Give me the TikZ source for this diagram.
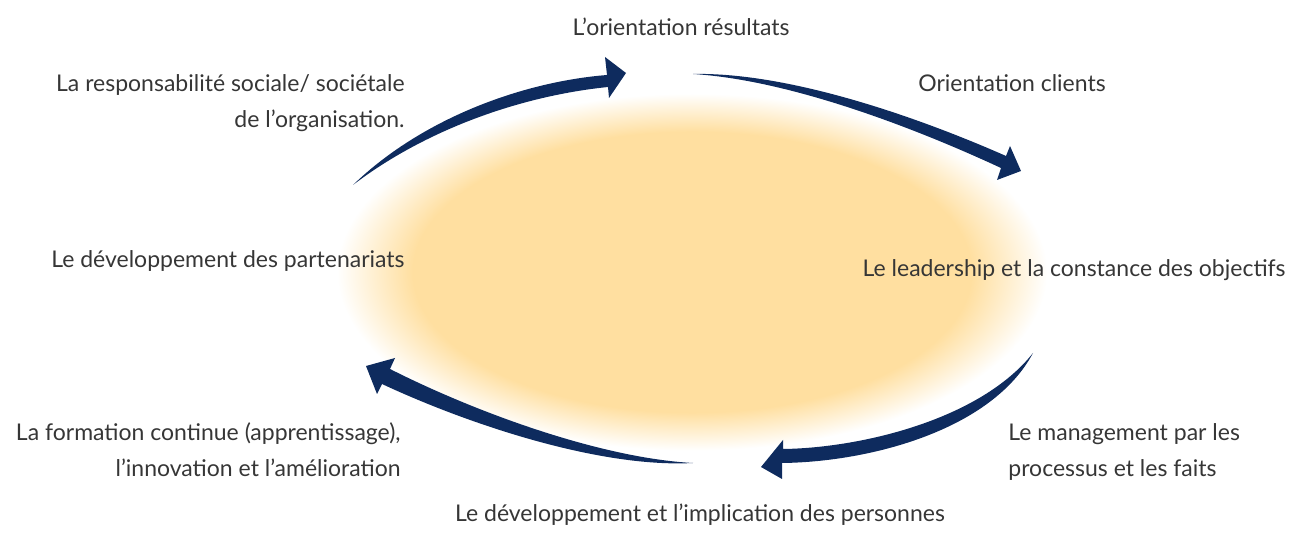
\documentclass[tikz,border=0pt]{standalone}
\usepackage{fontspec}
\setmainfont{Lato}
\usetikzlibrary{positioning}

\definecolor{glowc}{HTML}{FFDFA0}
\definecolor{navy}{HTML}{0E2B5E}
\definecolor{txt}{HTML}{363636}
\pgfdeclareradialshading{glow}{\pgfpoint{0bp}{0bp}}{color(0bp)=(glowc); color(19.5bp)=(glowc); color(24.8bp)=(white); color(50bp)=(white)}

\begin{document}
\begin{tikzpicture}[x=0.5pt,y=-0.5pt]
 \tikzset{lbl/.style={text=txt, inner sep=0pt, font=\fontsize{11.5}{18}\selectfont},
  cyc/.style={fill=navy, draw=none}}
 \useasboundingbox (0,0) rectangle (1290,549);
 % the glow in the middle
 \shade[shading=glow] (692,272) ellipse [x radius=358, y radius=180];
 % the labels round the cycle
 \node[lbl, anchor=base] (res) at (681,36) {L’orientation résultats};
 \node[lbl, anchor=base west] (cli) at (918,92) {Orientation clients};
 \node[lbl, anchor=base east, align=right] (rso) at (405,128) {La responsabilité sociale/ sociétale\\de l’organisation.};
 \node[lbl, anchor=base east] (part) at (405,268) {Le développement des partenariats};
 \node[lbl, anchor=base east] (lead) at (1286,277) {Le leadership et la constance des objectifs};
 \node[lbl, anchor=base east, align=right] (form) at (401,477) {La formation continue (apprentissage),\\l’innovation et l’amélioration};
 \node[lbl, anchor=base west, align=left] (mgt) at (1008,477) {Le management par les\\processus et les faits};
 \node[lbl, anchor=base] (pers) at (700,522) {Le développement et l’implication des personnes};
 % the four arrows
 \coordinate (t1) at (353,185); \coordinate (p1) at (626,73);
 \coordinate (t2) at (693,74); \coordinate (p2) at (1021,171);
 \coordinate (t3) at (1033,353); \coordinate (p3) at (761,467);
 \coordinate (t4) at (693,463); \coordinate (p4) at (366,366);
 \fill[cyc] (t1) .. controls (420,120) and (520,82) .. (607,75) -- (605,57) -- (p1) -- (609,98) -- (608,87) .. controls (520,96) and (425,130) .. (t1) -- cycle;
 \fill[cyc] (t2) .. controls (790,72) and (920,118) .. (1006,156) -- (1010,146) -- (p2) -- (997,180) -- (1001,168) .. controls (915,128) and (790,80) .. (t2) -- cycle;
 \fill[cyc] (t3) .. controls (980,420) and (860,448) .. (783,449) -- (783,440) -- (p3) -- (782,479) -- (782,463) .. controls (870,462) and (992,430) .. (t3) -- cycle;
 \fill[cyc] (t4) .. controls (600,458) and (475,412) .. (390,369) -- (395,358) -- (p4) -- (377,394) -- (382,384) .. controls (470,425) and (600,468) .. (t4) -- cycle;
\end{tikzpicture}
\end{document}
